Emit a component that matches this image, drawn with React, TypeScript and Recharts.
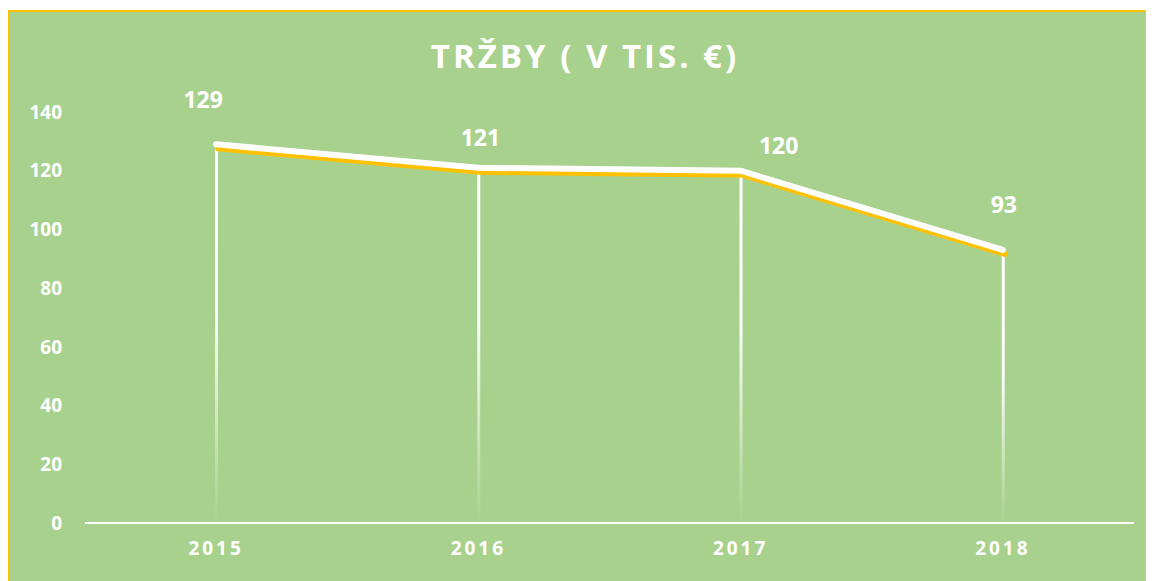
import React from 'react';
import { ComposedChart, Line, Bar, XAxis, YAxis, LabelList } from 'recharts';

const years = ['2015', '2016', '2017', '2018'];
const sales = [129, 121, 120, 93];
const yTicks = [0, 20, 40, 60, 80, 100, 120, 140];
// label nudges (dx, dy) from each point, like Excel placed them
const labelNudge = [
  [-13, -45],
  [2, -31],
  [38, -26],
  [1, -46],
];

const data = years.map((year, i) => ({ year, sales: sales[i] }));

const font = '"Open Sans", sans-serif';

const renderLabel = (props: any) => {
  const { x, y, value, index } = props;
  const [dx, dy] = labelNudge[index] || [0, -30];
  return (
    <text
      x={x + dx}
      y={y + dy}
      fill="#fff"
      fontFamily={font}
      fontWeight={700}
      fontSize={23}
      textAnchor="middle"
      dominantBaseline="central"
    >
      {value}
    </text>
  );
};

const App: React.FC = () => {
  return (
    <div
      style={{
        position: 'relative',
        marginTop: 2,
        width: 1140,
        height: 573,
        background: '#A9D18E',
        border: '2px solid #FFC000',
        fontFamily: font,
      }}
    >
      <style>{`.shadow-line .recharts-line-curve { filter: drop-shadow(2px 4px 0 #FFC000); }`}</style>
      <svg width={0} height={0} style={{ position: 'absolute' }}>
        <defs>
          <linearGradient id="fadeDrop" x1="0" y1="0" x2="0" y2="1">
            <stop offset="0%" stopColor="#fff" stopOpacity={1} />
            <stop offset="45%" stopColor="#fff" stopOpacity={0.95} />
            <stop offset="100%" stopColor="#fff" stopOpacity={0} />
          </linearGradient>
        </defs>
      </svg>
      <div
        style={{
          position: 'absolute',
          top: 23,
          left: 0,
          width: 1150,
          textAlign: 'center',
          color: '#fff',
          fontWeight: 700,
          fontSize: 33,
          letterSpacing: 3,
          lineHeight: '42px',
        }}
      >
        TRŽBY ( V TIS. €)
      </div>
      <ComposedChart
        width={1140}
        height={569}
        data={data}
        margin={{ top: 100, right: 16, bottom: 18, left: 0 }}
      >
        <XAxis
          dataKey="year"
          height={40}
          axisLine={{ stroke: '#fff', strokeWidth: 2 }}
          tickLine={false}
          tickSize={0}
          tickMargin={19}
          tick={{ fill: '#fff', fontSize: 19, fontWeight: 700, fontFamily: font, letterSpacing: 3 }}
        />
        <YAxis
          width={75}
          domain={[0, 140]}
          ticks={yTicks}
          axisLine={false}
          tickLine={false}
          tickSize={0}
          tickMargin={23}
          tick={{ fill: '#fff', fontSize: 19, fontWeight: 700, fontFamily: font }}
        />
        <Bar dataKey="sales" barSize={3} fill="url(#fadeDrop)" isAnimationActive={false} />
        <Line
          className="shadow-line"
          type="linear"
          dataKey="sales"
          stroke="#fff"
          strokeWidth={6}
          strokeLinecap="round"
          strokeLinejoin="round"
          dot={false}
          activeDot={false}
          isAnimationActive={false}
        >
          <LabelList dataKey="sales" content={renderLabel} />
        </Line>
      </ComposedChart>
    </div>
  );
};

export default App;
